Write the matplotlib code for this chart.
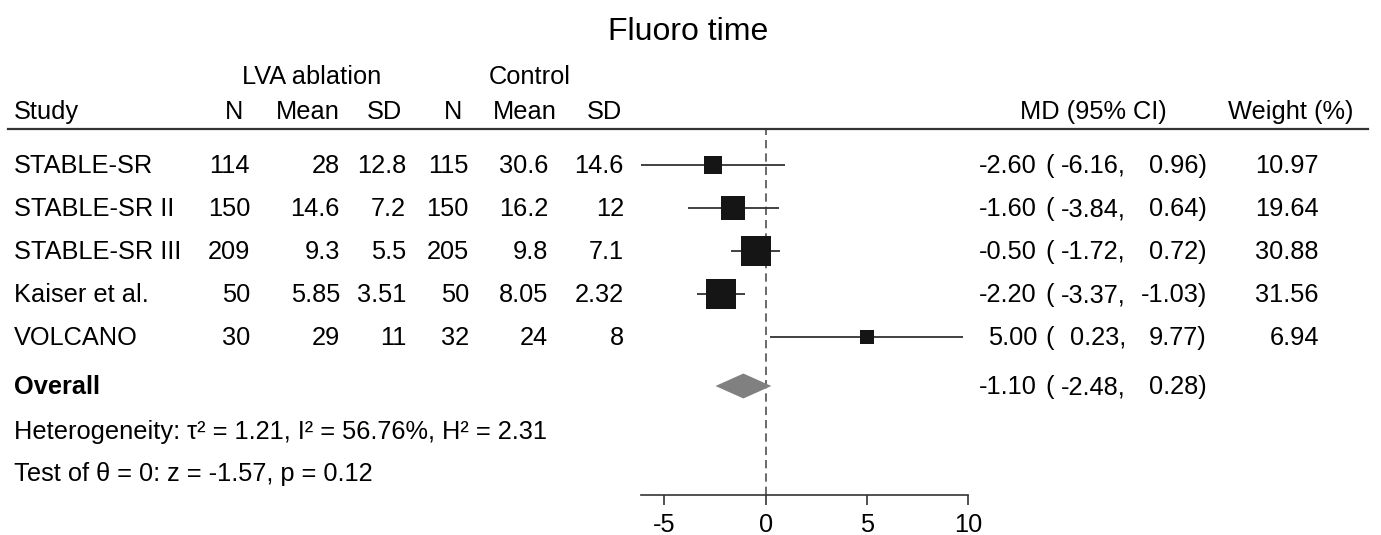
import matplotlib

matplotlib.use("Agg")
import matplotlib.pyplot as plt
import matplotlib.transforms as mtransforms

STUDIES = ["STABLE-SR", "STABLE-SR II", "STABLE-SR III", "Kaiser et al.", "VOLCANO"]
N_TRT = [114, 150, 209, 50, 30]
MEAN_TRT = [28, 14.6, 9.3, 5.85, 29]
SD_TRT = [12.8, 7.2, 5.5, 3.51, 11]
N_CTL = [115, 150, 205, 50, 32]
MEAN_CTL = [30.6, 16.2, 9.8, 8.05, 24]
SD_CTL = [14.6, 12, 7.1, 2.32, 8]
MD = [-2.60, -1.60, -0.50, -2.20, 5.00]
CI_LO = [-6.16, -3.84, -1.72, -3.37, 0.23]
CI_HI = [0.96, 0.64, 0.72, -1.03, 9.77]
WEIGHT = [10.97, 19.64, 30.88, 31.56, 6.94]
OVERALL_MD = -1.10
OVERALL_LO = -2.48
OVERALL_HI = 0.28
TAU2, I2, H2 = 1.21, 56.76, 2.31
Z_STAT, P_VAL = -1.57, 0.12
XTICKS = [-5, 0, 5, 10]

W, H = 1381, 535
FS = 18.3
ROW0, ROW_STEP = 165, 43  # pixel centre of first study row, spacing


def ry(py):
    # pixel y -> row units used by the forest axes
    return (py - ROW0) / ROW_STEP


def main() -> None:
    plt.rcParams["font.family"] = ["Liberation Sans", "DejaVu Sans"]
    plt.rcParams["axes.unicode_minus"] = False
    fig = plt.figure(figsize=(W / 100, H / 100), dpi=100)

    ax_left, ax_right, ax_top, ax_bot = 641, 968, 130, 495
    ax = fig.add_axes([ax_left / W, 1 - ax_bot / H, (ax_right - ax_left) / W, (ax_bot - ax_top) / H])
    ax.set_xlim(min(CI_LO), max(XTICKS))
    ax.set_ylim(ry(ax_bot), ry(ax_top))
    ax.patch.set_alpha(0)
    for side in ["top", "left", "right"]:
        ax.spines[side].set_visible(False)
    ax.spines["bottom"].set_color("#333333")
    ax.spines["bottom"].set_linewidth(1.2)
    ax.set_yticks([])
    ax.set_xticks(XTICKS)
    ax.tick_params(axis="x", length=7, width=1.2, color="#333333", pad=6, labelsize=FS)

    # null line
    ax.axvline(0, color="#505050", lw=1.2, linestyle=(0, (5, 3)), zorder=1)

    rows = list(range(len(STUDIES)))
    for i in rows:
        ax.plot([CI_LO[i], CI_HI[i]], [i, i], color="#333333", lw=1.3, zorder=2, solid_capstyle="butt")
        ax.plot(MD[i], i, marker="s", ms=3.8 * WEIGHT[i] ** 0.5, color="#151515",
                markeredgewidth=0, zorder=3)

    overall_row = ry(386)
    dh = 0.29
    ax.fill([OVERALL_LO, OVERALL_MD, OVERALL_HI, OVERALL_MD],
            [overall_row, overall_row - dh, overall_row, overall_row + dh],
            color="#808080", lw=0, zorder=3)

    # table text
    tr = mtransforms.blended_transform_factory(fig.transFigure, ax.transData)
    base = mtransforms.offset_copy(tr, fig=fig, x=0, y=-8, units="dots")

    def put(px, row, s, ha="right", **kw):
        ax.text(px / W, row, s, transform=base, ha=ha, va="baseline", fontsize=FS,
                color="black", clip_on=False, **kw)

    # headers
    fig.text(688 / W, 1 - 40 / H, "Fluoro time", ha="center", va="baseline", fontsize=23)
    h1 = ry(76)
    put(312, h1, "LVA ablation", ha="center")
    put(530, h1, "Control", ha="center")
    h2 = ry(111)
    put(14, h2, "Study", ha="left")
    put(243, h2, "N")
    put(340, h2, "Mean")
    put(402, h2, "SD")
    put(462, h2, "N")
    put(557, h2, "Mean")
    put(622, h2, "SD")
    put(1167, h2, "MD (95% CI)")
    put(1353, h2, "Weight (%)")
    ax.plot([8 / W, 1368 / W], [ry(129), ry(129)], transform=tr, color="#333333",
            lw=1.6, clip_on=False)

    for i in rows:
        put(14, i, STUDIES[i], ha="left")
        put(250, i, f"{N_TRT[i]}")
        put(340, i, f"{MEAN_TRT[i]:g}")
        put(406, i, f"{SD_TRT[i]:g}")
        put(469, i, f"{N_CTL[i]}")
        put(548, i, f"{MEAN_CTL[i]:g}")
        put(624, i, f"{SD_CTL[i]:g}")
        put(1037, i, f"{MD[i]:.2f}")
        put(1045, i, "(", ha="left")
        put(1126, i, f"{CI_LO[i]:.2f},")
        put(1207, i, f"{CI_HI[i]:.2f})")
        put(1319, i, f"{WEIGHT[i]:.2f}")

    put(14, overall_row, "Overall", ha="left", fontweight="bold")
    put(1037, overall_row, f"{OVERALL_MD:.2f}")
    put(1045, overall_row, "(", ha="left")
    put(1126, overall_row, f"{OVERALL_LO:.2f},")
    put(1207, overall_row, f"{OVERALL_HI:.2f})")

    put(14, ry(431), f"Heterogeneity: \u03c4\u00b2 = {TAU2:.2f}, I\u00b2 = {I2:.2f}%, H\u00b2 = {H2:.2f}", ha="left")
    put(14, ry(473), f"Test of \u03b8 = 0: z = {Z_STAT:.2f}, p = {P_VAL:.2f}", ha="left")

    fig.savefig("out.png", dpi=100)
    plt.close(fig)


if __name__ == "__main__":
    main()
